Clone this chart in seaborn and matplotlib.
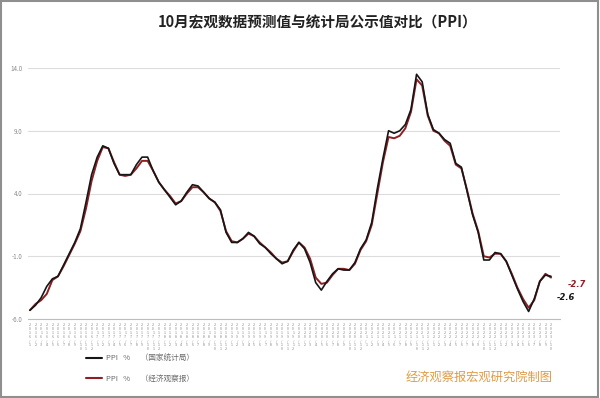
import numpy as np
import pandas as pd
import matplotlib
matplotlib.use("Agg")
import matplotlib.pyplot as plt
from matplotlib.lines import Line2D
from matplotlib.patches import Rectangle
import seaborn as sns

# ---- data ----
years = [2016]*12 + [2017]*12 + [2018]*12 + [2019]*12 + [2020]*12 + [2021]*12 + [2022]*12 + [2023]*10
months = list(range(1, 13))*7 + list(range(1, 11))
month_labels = [f"{y}/{m}" for y, m in zip(years, months)]

ppi_official = [
    -5.3, -4.9, -4.3, -3.4, -2.8, -2.6, -1.7, -0.8, 0.1, 1.2, 3.3, 5.5,
    6.9, 7.8, 7.6, 6.4, 5.5, 5.5, 5.5, 6.3, 6.9, 6.9, 5.8, 4.9,
    4.3, 3.7, 3.1, 3.4, 4.1, 4.7, 4.6, 4.1, 3.6, 3.3, 2.7, 0.9,
    0.1, 0.1, 0.4, 0.9, 0.6, 0.0, -0.3, -0.8, -1.2, -1.6, -1.4, -0.5,
    0.1, -0.4, -1.5, -3.1, -3.7, -3.0, -2.4, -2.0, -2.1, -2.1, -1.5, -0.4,
    0.3, 1.7, 4.4, 6.8, 9.0, 8.8, 9.0, 9.5, 10.7, 13.5, 12.9, 10.3,
    9.1, 8.8, 8.3, 8.0, 6.4, 6.1, 4.2, 2.3, 0.9, -1.3, -1.3, -0.7,
    -0.8, -1.4, -2.5, -3.6, -4.6, -5.4, -4.4, -3.0, -2.5, -2.6,
]
ppi_forecast = [
    -5.3, -4.8, -4.5, -4.0, -2.9, -2.6, -1.8, -0.9, 0.0, 1.0, 2.8, 5.0,
    6.6, 7.7, 7.6, 6.5, 5.5, 5.4, 5.5, 6.0, 6.6, 6.6, 5.8, 4.9,
    4.3, 3.8, 3.2, 3.4, 4.0, 4.5, 4.5, 4.1, 3.6, 3.3, 2.6, 1.0,
    0.2, 0.1, 0.4, 0.8, 0.6, 0.1, -0.3, -0.7, -1.2, -1.5, -1.4, -0.6,
    0.1, -0.3, -1.2, -2.7, -3.2, -3.1, -2.5, -2.0, -2.0, -2.1, -1.6, -0.5,
    0.2, 1.5, 4.0, 6.5, 8.5, 8.4, 8.6, 9.2, 10.5, 13.1, 12.6, 10.2,
    9.0, 8.8, 8.2, 7.8, 6.3, 6.0, 4.3, 2.4, 1.0, -1.0, -1.1, -0.8,
    -0.8, -1.4, -2.4, -3.5, -4.4, -5.1, -4.5, -3.0, -2.4, -2.7,
]
y_ticks = [14.0, 9.0, 4.0, -1.0, -6.0]
series_names = ["PPI   %      （国家统计局）", "PPI   %      （经济观察报）"]
colors = ["#161616", "#8e1f24"]

n = len(month_labels)
df = pd.DataFrame({
    "idx": list(range(n)) * 2,
    "value": ppi_official + ppi_forecast,
    "source": [series_names[0]] * n + [series_names[1]] * n,
})

sns.set_style("white")
plt.rcParams["font.family"] = ["Noto Sans CJK SC", "DejaVu Sans"]
plt.rcParams["axes.unicode_minus"] = False

fig = plt.figure(figsize=(6.0, 3.98), dpi=100)
ax = fig.add_axes([28/600, 1-319/398, (560-28)/600, (319-68)/398])

# red drawn under black
sns.lineplot(data=df[df.source == series_names[1]], x="idx", y="value",
             color=colors[1], linewidth=1.4, ax=ax, legend=False)
sns.lineplot(data=df[df.source == series_names[0]], x="idx", y="value",
             color=colors[0], linewidth=1.2, ax=ax, legend=False)

ax.set_xlim(-0.35, 94.6)
ax.set_ylim(-6, 14)
ax.set_yticks(y_ticks)
ax.set_yticklabels([f"{v:.1f}" for v in y_ticks], fontsize=4.5, color="#8a8a8a")
ax.tick_params(axis="y", length=0, pad=4)
ax.yaxis.grid(True, color="#dcdcdc", linewidth=0.8)
ax.xaxis.grid(False)
ax.set_xticks(range(n))
ax.set_xticklabels(["\n".join(lbl) for lbl in month_labels], fontsize=2.5,
                   color="#7e7e7e", linespacing=1.0, va="top")
ax.tick_params(axis="x", length=2, width=0.5, color="#bdbdbd", pad=1)
for s in ["left", "top", "right"]:
    ax.spines[s].set_visible(False)
ax.spines["bottom"].set_color("#bdbdbd")
ax.spines["bottom"].set_linewidth(0.8)
ax.set_xlabel("")
ax.set_ylabel("")

# end labels
ax.annotate("-2.7", xy=(n-1, ppi_forecast[-1]), xytext=(12, -5), textcoords="offset points",
            fontsize=6, color=colors[1], style="italic", fontweight="bold",
            ha="left", va="center", family=["DejaVu Sans"])
ax.annotate("-2.6", xy=(n-1, ppi_official[-1]), xytext=(4, -15), textcoords="offset points",
            fontsize=6, color=colors[0], style="italic", fontweight="bold",
            ha="left", va="center", family=["DejaVu Sans"])

# title
fig.text(318/600, 1-22/398, "10月宏观数据预测值与统计局公示值对比（PPI）",
         ha="center", va="center", fontsize=10.5, fontweight="bold", color="#222222")

# legend
handles = [Line2D([], [], color=c, linewidth=1.5) for c in colors]
fig.legend(handles, series_names, loc="upper left", bbox_to_anchor=(86/600, 1-355/398),
           frameon=False, fontsize=5.5, labelcolor="#6a6a6a", handlelength=2.1,
           handletextpad=0.5, labelspacing=1.5, borderpad=0, borderaxespad=0)

# watermark
fig.text(479/600, 1-377/398, "经济观察报宏观研究院制图", ha="center", va="center",
         fontsize=8.8, color="#e09a40")

# frame
fig.patches.append(Rectangle((0.001, 0.002), 0.996, 0.995, transform=fig.transFigure,
                             fill=False, edgecolor="#8f8f8f", linewidth=1.5))

fig.savefig("out.png", dpi=100)
